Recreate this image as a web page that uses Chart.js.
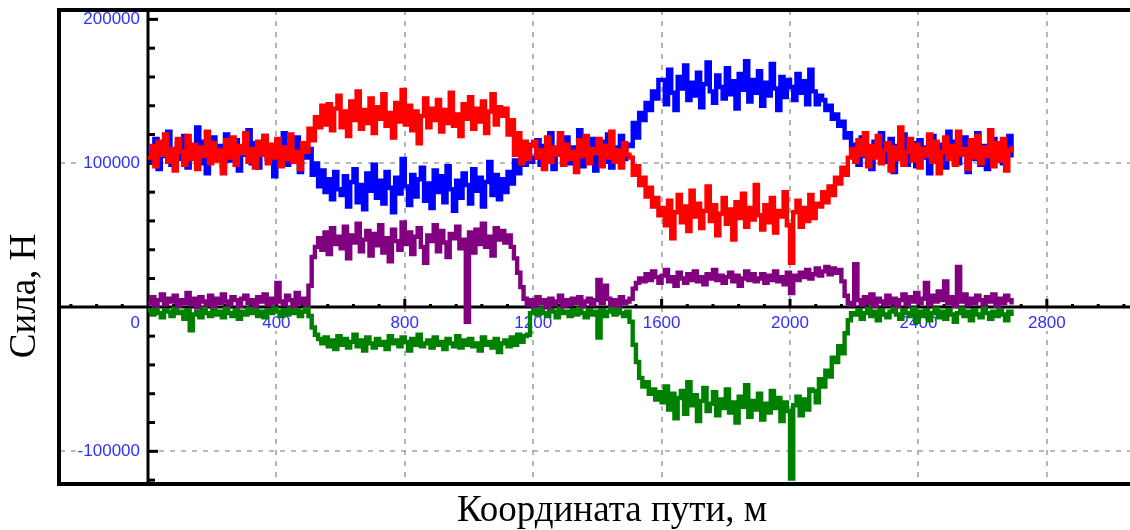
<!DOCTYPE html>
<html lang="ru">
<head>
<meta charset="utf-8">
<title>Сила по координате пути</title>
<script src="https://cdn.jsdelivr.net/npm/chart.js@4.4.1/dist/chart.umd.min.js"></script>
<style>
  html, body { margin: 0; padding: 0; background: #fff; }
  #wrap { width: 1130px; height: 530px; }
</style>
</head>
<body>
<div id="wrap"><canvas id="forceChart" width="1130" height="530"></canvas></div>
<script>
// samples every 10 m along the track, forces in kN
const STEP_M = 10;

const redForce = [
  104, 112, 98, 115, 106, 120, 101, 110, 95, 117,
  108, 99, 119, 103, 113, 96, 111, 105, 122, 100,
  114, 102, 109, 93, 116, 104, 118, 99, 112, 107,
  121, 101, 110, 97, 115, 106, 119, 100, 113, 104,
  117, 98, 111, 103, 120, 101, 108, 96, 114, 108,
  124, 116, 132, 125, 140, 127, 141, 123, 138, 147,
  125, 136, 119, 143, 130, 150, 124, 137, 128, 145,
  121, 139, 131, 148, 126, 135, 118, 142, 129, 151,
  127, 140, 123, 136, 114, 133, 145, 125, 138, 130,
  144, 122, 137, 128, 149, 126, 134, 119, 141, 131,
  146, 124, 138, 129, 143, 121, 136, 148, 127, 139,
  133, 138, 120, 130, 106, 121, 100, 115, 103, 112,
  115, 104, 109, 96, 118, 101, 111, 106, 121, 99,
  113, 103, 108, 94, 116, 105, 119, 100, 110, 107,
  117, 98, 112, 104, 122, 101, 109, 97, 114, 106,
  104, 92, 98, 85, 90, 77, 83, 70, 76, 64,
  69, 57, 74, 48, 66, 78, 59, 70, 53, 81,
  63, 72, 55, 67, 84, 60, 71, 50, 65, 76,
  58, 68, 47, 73, 62, 79, 56, 69, 61, 85,
  64, 54, 71, 59, 76, 52, 67, 63, 80, 57,
  31, 66, 74, 56, 69, 60, 78, 62, 72, 70,
  80, 73, 84, 78, 90, 86, 97, 92, 104, 110,
  101, 116, 106, 121, 98, 112, 104, 119, 100, 109,
  114, 95, 111, 103, 125, 99, 108, 117, 102, 113,
  97, 110, 105, 120, 101, 115, 93, 108, 118, 103,
  112, 99, 122, 106, 110, 96, 116, 104, 119, 100,
  111, 105, 123, 98, 114, 102, 117, 95, 109, 112
];

const blueForce = [
  110, 101, 117, 96, 113, 105, 122, 99, 108, 114,
  103, 119, 97, 111, 106, 125, 100, 115, 93, 109,
  118, 104, 112, 98, 120, 102, 109, 116, 95, 111,
  106, 123, 100, 114, 97, 110, 119, 103, 108, 91,
  115, 105, 121, 99, 112, 107, 118, 94, 110, 104,
  110, 92, 100, 84, 95, 80, 89, 75, 94, 82,
  78, 91, 70, 87, 96, 73, 85, 68, 93, 81,
  99, 76, 88, 72, 94, 83, 66, 90, 79, 103,
  84, 71, 92, 77, 89, 97, 74, 86, 69, 95,
  80, 91, 73, 98, 82, 67, 88, 76, 93, 85,
  72, 96, 81, 90, 70, 87, 101, 78, 92, 75,
  89, 80, 94, 86, 102, 93, 110, 99, 113, 101,
  104, 116, 99, 112, 107, 121, 96, 109, 114, 102,
  118, 100, 111, 106, 123, 98, 113, 103, 117, 95,
  109, 115, 101, 120, 97, 111, 105, 119, 103, 113,
  112, 128, 118, 135, 130, 142, 137, 150, 145, 158,
  158, 141, 165, 149, 137, 160, 152, 168, 144, 156,
  147, 163, 139, 155, 170, 150, 142, 161, 153, 145,
  166, 148, 157, 138, 162, 151, 171, 143, 158, 149,
  164, 140, 156, 147, 169, 152, 137, 160, 146, 158,
  153, 144, 162, 149, 157, 141, 165, 150, 141, 147,
  144, 137, 140, 131, 134, 126, 129, 118, 121, 112,
  113, 99, 118, 105, 110, 96, 115, 108, 121, 101,
  107, 117, 94, 112, 103, 120, 99, 109, 114, 98,
  116, 104, 111, 93, 119, 106, 101, 113, 97, 122,
  105, 115, 100, 108, 118, 94, 110, 103, 121, 99,
  112, 96, 109, 117, 102, 114, 100, 107, 119, 104
];

const purpleForce = [
  3, 7, 1, 5, 9, 2, 6, 4, 8, 1,
  5, 3, 10, 2, 6, 0, 7, 4, 2, 8,
  1, 6, 3, 9, 4, 2, 7, 5, 1, 6,
  8, 3, 5, 1, 7, 4, 9, 2, 6, 3,
  17, 4, 2, 8, 5, 1, 10, 3, 6, 2,
  15, 35, 42, 48, 40, 52, 37, 55, 44, 49,
  41, 56, 34, 50, 45, 58, 39, 47, 53, 36,
  51, 43, 57, 38, 48, 32, 54, 46, 40, 59,
  44, 52, 37, 49, 55, 42, 31, 50, 46, 57,
  39, 53, 45, 35, 51, 48, 56, 41, 47, -10,
  52, 38, 54, 44, 58, 42, 49, 36, 55, 47,
  53, 45, 50, 42, 34, 24, 14, 6, 2, 5,
  1, 7, 3, 5, 0, 6, 2, 4, 8, 1,
  5, 2, 6, 3, 7, 1, 4, 6, 2, 5,
  19, 3, 15, 6, 2, 5, 1, 7, 3, 4,
  6, 13, 17, 20, 18, 23, 19, 25, 21, 17,
  22, 26, 18, 21, 15, 24, 20, 17, 23, 19,
  25, 18, 21, 16, 23, 20, 26, 19, 22, 17,
  21, 24, 18, 22, 15, 20, 25, 19, 23, 18,
  20, 23, 17, 22, 19, 25, 18, 21, 16, 24,
  10, 22, 19, 24, 21, 26, 20, 23, 27, 22,
  25, 28, 23, 27, 24, 26, 18, 8, 3, 2,
  30, 5, 2, 7, 3, 9, 1, 6, 4, 2,
  8, 3, 6, 1, 5, 9, 2, 7, 4, 10,
  3, 6, 17, 2, 8, 4, 11, 5, 18, 3,
  7, 1, 28, 4, 9, 2, 6, 3, 8, 5,
  2, 7, 4, 9, 1, 6, 3, 8, 5, 2
];

const greenForce = [
  -2, -5, -1, -4, -7, -2, -3, -6, -1, -4,
  -3, -8, -2, -16, -5, -3, -7, -1, -4, -6,
  -2, -5, -3, -7, -1, -4, -6, -2, -8, -3,
  -5, -1, -4, -2, -6, -3, -7, -2, -4, -1,
  -3, -6, -2, -5, -1, -4, -2, -6, -3, -1,
  -6, -14, -19, -22, -25, -21, -27, -23, -29, -20,
  -26, -22, -28, -24, -19, -27, -23, -30, -21, -25,
  -28, -22, -26, -24, -29, -20, -25, -23, -27, -21,
  -24, -30, -22, -26, -19, -27, -25, -23, -28, -21,
  -26, -24, -29, -22, -25, -27, -20, -28, -23, -26,
  -22, -27, -25, -30, -21, -26, -24, -28, -22, -31,
  -25, -23, -27, -21, -26, -19, -24, -20, -19, -4,
  -2, -5, -1, -4, -6, -2, -3, -7, -1, -4,
  -3, -6, -2, -5, -1, -4, -7, -2, -5, -3,
  -21, -2, -6, -3, -1, -5, -2, -4, -6, -3,
  -10, -26, -38, -49, -55, -52, -60, -57, -64, -59,
  -66, -55, -71, -60, -77, -63, -58, -74, -52, -68,
  -61, -79, -65, -56, -72, -67, -59, -75, -64, -70,
  -57, -73, -66, -80, -62, -69, -54, -76, -65, -71,
  -60, -78, -67, -73, -58, -70, -63, -79, -66, -72,
  -119, -68, -62, -75, -64, -71, -57, -58, -66, -50,
  -55, -44, -48, -35, -38, -27, -32, -18, -9, -4,
  -5, -2, -8, -4, -1, -6, -3, -9, -2, -5,
  -7, -3, -1, -5, -8, -2, -4, -6, -1, -10,
  -3, -6, -2, -9, -4, -1, -7, -3, -8, -2,
  -5, -10, -4, -1, -6, -3, -9, -2, -5, -7,
  -1, -4, -8, -3, -6, -2, -5, -9, -3, -6
];

const X_TICK_LABELS = [400, 800, 1200, 1600, 2000, 2400, 2800];
const Y_TICK_LABELS = [200000, 100000, -100000];
const Y_GRID = [100000, -100000];

const LABEL_COLOR = "#2f2fff";
const LABEL_FONT = '17px "Liberation Sans", Arial, sans-serif';
const TITLE_FONT = '37px "Liberation Serif", "Times New Roman", serif';

function toPoints(values) {
  return values.map((kn, i) => ({ x: i * STEP_M, y: kn * 1000 }));
}

function drawTickLabel(ctx, text, px, py, align) {
  const w = ctx.measureText(text).width;
  const left = align === "right" ? px - w : px - w / 2;
  ctx.fillStyle = "#fff";
  ctx.fillRect(left - 2, py - 8, w + 4, 16);
  ctx.fillStyle = LABEL_COLOR;
  ctx.textAlign = align;
  ctx.fillText(text, px, py);
}

// axes crossing at the origin, dashed grid, minor ticks and blue labels
const crossAxes = {
  id: "crossAxes",
  beforeDatasetsDraw(chart) {
    const { ctx, chartArea: area, scales } = chart;
    const xs = scales.x;
    const ys = scales.y;
    const x0 = Math.round(xs.getPixelForValue(0));
    const y0 = Math.round(ys.getPixelForValue(0));

    ctx.save();
    ctx.strokeStyle = "#a2a2a2";
    ctx.lineWidth = 1.6;
    ctx.setLineDash([5, 6]);
    X_TICK_LABELS.forEach((v) => {
      const px = Math.round(xs.getPixelForValue(v));
      ctx.beginPath();
      ctx.moveTo(px, area.top);
      ctx.lineTo(px, area.bottom);
      ctx.stroke();
    });
    Y_GRID.forEach((v) => {
      const py = Math.round(ys.getPixelForValue(v));
      ctx.beginPath();
      ctx.moveTo(area.left, py);
      ctx.lineTo(area.right, py);
      ctx.stroke();
    });
    ctx.setLineDash([]);

    ctx.font = LABEL_FONT;
    ctx.textBaseline = "middle";
    Y_TICK_LABELS.forEach((v) => {
      drawTickLabel(ctx, String(v), x0 - 8, ys.getPixelForValue(v), "right");
    });
    X_TICK_LABELS.forEach((v) => {
      drawTickLabel(ctx, String(v), xs.getPixelForValue(v), y0 + 16, "center");
    });
    drawTickLabel(ctx, "0", x0 - 8, y0 + 16, "right");

    // axis lines
    ctx.fillStyle = "#000";
    ctx.fillRect(area.left, y0 - 1.5, area.right - area.left, 3);
    ctx.fillRect(x0 - 1.5, area.top, 3, area.bottom - area.top);

    // y ticks every 20 kN, longer at 100 kN
    for (let v = -120000; v <= 200000; v += 20000) {
      if (v === 0) continue;
      const py = ys.getPixelForValue(v);
      const len = v % 100000 === 0 ? 10 : 7;
      ctx.fillRect(x0, py - 1.5, len, 3);
    }
    // x ticks every 80 m, longer at 400 m
    for (let v = -240; v <= 3040; v += 80) {
      if (v === 0) continue;
      const px = xs.getPixelForValue(v);
      const len = v % 400 === 0 ? 8 : 3;
      ctx.fillRect(px - 1.5, y0 - len, 3, len);
    }
    ctx.restore();
  },
  afterDraw(chart) {
    const { ctx, chartArea: area } = chart;
    ctx.save();
    ctx.fillStyle = "#000";
    ctx.fillRect(area.left - 3, area.top - 2, area.right - area.left + 3, 4);
    ctx.fillRect(area.left - 3, area.bottom - 2, area.right - area.left + 3, 4);
    ctx.fillRect(area.left - 3, area.top - 2, 4, area.bottom - area.top + 4);

    ctx.font = TITLE_FONT;
    ctx.textAlign = "center";
    ctx.textBaseline = "middle";
    ctx.fillText("Координата пути, м", 612, 511);
    ctx.translate(25, 296);
    ctx.rotate(-Math.PI / 2);
    ctx.fillText("Сила, Н", 0, 0);
    ctx.restore();
  },
};

function makeSeries(label, values, color) {
  return {
    label,
    data: toPoints(values),
    borderColor: color,
    backgroundColor: color,
    borderWidth: 4.4,
    borderJoinStyle: "miter",
    stepped: true,
    pointRadius: 0,
    fill: false,
  };
}

new Chart(document.getElementById("forceChart"), {
  type: "line",
  data: {
    datasets: [
      makeSeries("F1", redForce, "#ff0000"),
      makeSeries("F2", blueForce, "#0000ff"),
      makeSeries("F3", purpleForce, "#800080"),
      makeSeries("F4", greenForce, "#008000"),
    ],
  },
  options: {
    responsive: false,
    animation: false,
    layout: { padding: { left: 60, top: 10, right: 0, bottom: 46 } },
    scales: {
      x: { type: "linear", min: -274, max: 3059, display: false },
      y: { type: "linear", min: -122700, max: 206500, display: false },
    },
    plugins: {
      legend: { display: false },
      tooltip: { enabled: false },
    },
  },
  plugins: [crossAxes],
});
</script>
</body>
</html>
